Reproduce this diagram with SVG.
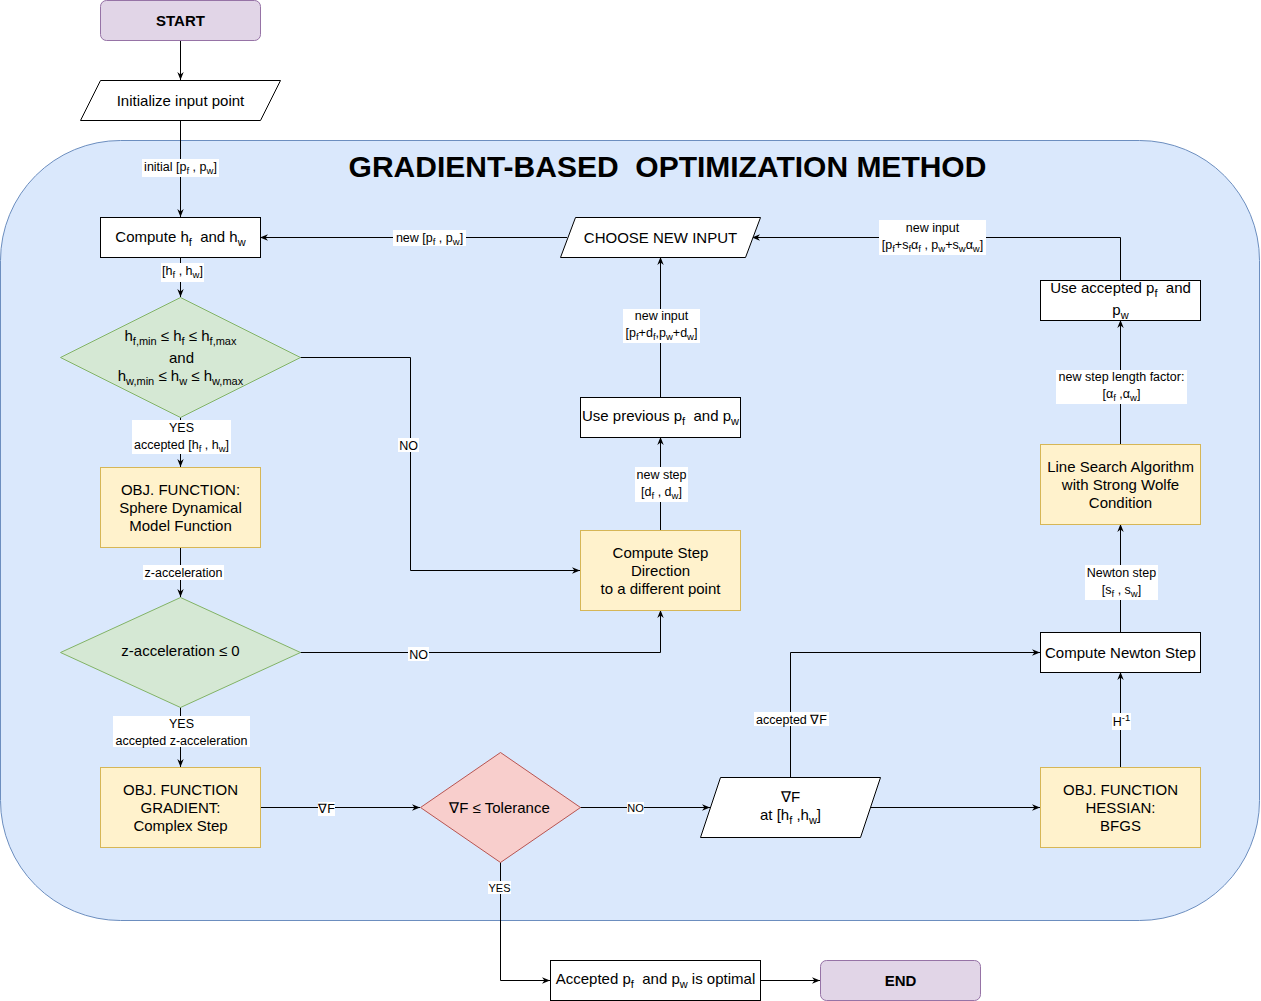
<svg xmlns="http://www.w3.org/2000/svg" width="1261" height="1001" viewBox="0 0 1261 1001">
<defs>
<marker id="arr" viewBox="0 0 10 10" refX="10" refY="5" markerWidth="8" markerHeight="8" markerUnits="userSpaceOnUse" orient="auto">
<path d="M0,1 L10,5 L0,9 L3,5 z" fill="#000"/>
</marker>
<style>
text{font-family:"Liberation Sans",Arial,sans-serif;fill:#000;white-space:pre;}
.n{font-size:15px;text-anchor:middle;}
.b{font-size:15px;font-weight:bold;text-anchor:middle;}
.l{font-size:12.5px;text-anchor:middle;}
.s{font-size:11px;}
.ls{font-size:9.5px;}
.title{font-size:30px;font-weight:bold;text-anchor:middle;}
.plain{fill:#fff;stroke:#000;stroke-width:1;}
.term{fill:#e1d5e7;stroke:#9673a6;stroke-width:1;}
.proc{fill:#fff2cc;stroke:#d6b656;stroke-width:1;}
.dec{fill:#d5e8d4;stroke:#82b366;stroke-width:1;}
.red{fill:#f8cecc;stroke:#b85450;stroke-width:1;}
.lbg{fill:#fff;stroke:none;}
.c{fill:none;stroke:#000;stroke-width:1;marker-end:url(#arr);}
</style>
</defs>
<rect width="1261" height="1001" fill="#fff"/>
<g id="container">
<rect x="0.5" y="140.5" width="1259" height="780" rx="120" ry="120" fill="#dae8fc" stroke="#6c8ebf" stroke-width="1"/>
<text class="title" x="667.5" y="177">GRADIENT-BASED  OPTIMIZATION METHOD</text>
</g>
<g id="connectors">
<path class="c" d="M180.5,40 V80"/>
<path class="c" d="M180.5,120 V217"/>
<path class="c" d="M180.5,257 V297"/>
<path class="c" d="M180.5,417 V467"/>
<path class="c" d="M180.5,547 V597"/>
<path class="c" d="M180.5,707 V767"/>
<path class="c" d="M260,807.5 H420"/>
<path class="c" d="M580,807.5 H710"/>
<path class="c" d="M870,807.5 H1040"/>
<path class="c" d="M1120.5,767 V672"/>
<path class="c" d="M1120.5,632 V524"/>
<path class="c" d="M1120.5,444 V320"/>
<path class="c" d="M1120.5,280 V237.5 H752"/>
<path class="c" d="M567,237.5 H260"/>
<path class="c" d="M660.5,397 V257"/>
<path class="c" d="M660.5,530 V437"/>
<path class="c" d="M300,357.5 H410.5 V570.5 H580"/>
<path class="c" d="M300,652.5 H660.5 V610"/>
<path class="c" d="M790.5,777 V652.5 H1040"/>
<path class="c" d="M500.5,862 V980.5 H550"/>
<path class="c" d="M760,980.5 H820"/>
<!-- labels -->
<rect class="lbg" x="142" y="159" width="77" height="18"/>
<text class="l" x="180.5" y="171">initial [p<tspan dy="3" class="ls">f</tspan><tspan dy="-3"> , p</tspan><tspan dy="3" class="ls">w</tspan><tspan dy="-3">]</tspan></text>
<rect class="lbg" x="161" y="263" width="43" height="19"/>
<text class="l" x="182.5" y="275">[h<tspan dy="3" class="ls">f</tspan><tspan dy="-3"> , h</tspan><tspan dy="3" class="ls">w</tspan><tspan dy="-3">]</tspan></text>
<rect class="lbg" x="132" y="420" width="99" height="34"/>
<text class="l" x="181.5" y="432">YES</text>
<text class="l" x="181.5" y="449">accepted [h<tspan dy="3" class="ls">f</tspan><tspan dy="-3"> , h</tspan><tspan dy="3" class="ls">w</tspan><tspan dy="-3">]</tspan></text>
<rect class="lbg" x="143" y="565" width="81" height="15"/>
<text class="l" x="183.5" y="577">z-acceleration</text>
<rect class="lbg" x="113" y="716" width="137" height="31"/>
<text class="l" x="181.5" y="728">YES</text>
<text class="l" x="181.5" y="745">accepted z-acceleration</text>
<rect class="lbg" x="318" y="802" width="17" height="14"/>
<text class="l" x="326.5" y="813">∇F</text>
<rect class="lbg" x="627" y="802" width="17" height="12"/>
<text class="l" x="635.5" y="812" style="font-size:11px">NO</text>
<rect class="lbg" x="488" y="881" width="23" height="13"/>
<text class="l" x="499.5" y="891.5" style="font-size:11px">YES</text>
<rect class="lbg" x="398" y="438" width="21" height="14"/>
<text class="l" x="408.5" y="450">NO</text>
<rect class="lbg" x="408" y="647" width="21" height="14"/>
<text class="l" x="418.5" y="658.5">NO</text>
<rect class="lbg" x="393" y="230" width="73" height="16"/>
<text class="l" x="429.5" y="242">new [p<tspan dy="3" class="ls">f</tspan><tspan dy="-3"> , p</tspan><tspan dy="3" class="ls">w</tspan><tspan dy="-3">]</tspan></text>
<rect class="lbg" x="879" y="220" width="107" height="35"/>
<text class="l" x="932.5" y="232">new input</text>
<text class="l" x="932.5" y="249">[p<tspan dy="3" class="ls">f</tspan><tspan dy="-3">+s</tspan><tspan dy="3" class="ls">f</tspan><tspan dy="-3">α</tspan><tspan dy="3" class="ls">f</tspan><tspan dy="-3"> , p</tspan><tspan dy="3" class="ls">w</tspan><tspan dy="-3">+s</tspan><tspan dy="3" class="ls">w</tspan><tspan dy="-3">α</tspan><tspan dy="3" class="ls">w</tspan><tspan dy="-3">]</tspan></text>
<rect class="lbg" x="623" y="309" width="77" height="34"/>
<text class="l" x="661.5" y="320">new input</text>
<text class="l" x="661.5" y="337">[p<tspan dy="3" class="ls">f</tspan><tspan dy="-3">+d</tspan><tspan dy="3" class="ls">f</tspan><tspan dy="-3">,p</tspan><tspan dy="3" class="ls">w</tspan><tspan dy="-3">+d</tspan><tspan dy="3" class="ls">w</tspan><tspan dy="-3">]</tspan></text>
<rect class="lbg" x="635" y="467" width="53" height="35"/>
<text class="l" x="661.5" y="479">new step</text>
<text class="l" x="661.5" y="496">[d<tspan dy="3" class="ls">f</tspan><tspan dy="-3"> , d</tspan><tspan dy="3" class="ls">w</tspan><tspan dy="-3">]</tspan></text>
<rect class="lbg" x="1056" y="370" width="131" height="34"/>
<text class="l" x="1121.5" y="381">new step length factor:</text>
<text class="l" x="1121.5" y="398">[α<tspan dy="3" class="ls">f</tspan><tspan dy="-3"> ,α</tspan><tspan dy="3" class="ls">w</tspan><tspan dy="-3">]</tspan></text>
<rect class="lbg" x="1085" y="565" width="73" height="35"/>
<text class="l" x="1121.5" y="577">Newton step</text>
<text class="l" x="1121.5" y="594">[s<tspan dy="3" class="ls">f</tspan><tspan dy="-3"> , s</tspan><tspan dy="3" class="ls">w</tspan><tspan dy="-3">]</tspan></text>
<rect class="lbg" x="754" y="712" width="75" height="14"/>
<text class="l" x="791.5" y="723.5">accepted ∇F</text>
<rect class="lbg" x="1112" y="713" width="19" height="17"/>
<text class="l" x="1121.5" y="726">H<tspan dy="-5" class="ls">-1</tspan></text>
</g>
<g id="start">
<rect class="term" x="100.5" y="0.5" width="160" height="40" rx="6" ry="6"/>
<text class="b" x="180.5" y="26">START</text>
</g>
<g id="init">
<polygon class="plain" points="100.5,80.5 280.5,80.5 260.5,120.5 80.5,120.5"/>
<text class="n" x="180.5" y="106">Initialize input point</text>
</g>
<g id="computeh">
<rect class="plain" x="100.5" y="217.5" width="160" height="40"/>
<text class="n" x="180.5" y="242">Compute h<tspan dy="4" class="s">f</tspan><tspan dy="-4">  and h</tspan><tspan dy="4" class="s">w</tspan></text>
</g>
<g id="dec1">
<polygon class="dec" points="180.5,297.5 300.5,357.5 180.5,417.5 60.5,357.5"/>
<text class="n" x="180.5" y="341">h<tspan dy="4" class="s">f,min</tspan><tspan dy="-4"> ≤ h</tspan><tspan dy="4" class="s">f</tspan><tspan dy="-4"> ≤ h</tspan><tspan dy="4" class="s">f,max</tspan></text>
<text class="n" x="181.5" y="363">and</text>
<text class="n" x="180.5" y="381">h<tspan dy="4" class="s">w,min</tspan><tspan dy="-4"> ≤ h</tspan><tspan dy="4" class="s">w</tspan><tspan dy="-4"> ≤ h</tspan><tspan dy="4" class="s">w,max</tspan></text>
</g>
<g id="objfun">
<rect class="proc" x="100.5" y="467.5" width="160" height="80"/>
<text class="n" x="180.5" y="495">OBJ. FUNCTION:</text>
<text class="n" x="180.5" y="513">Sphere Dynamical</text>
<text class="n" x="180.5" y="531">Model Function</text>
</g>
<g id="dec2">
<polygon class="dec" points="180.5,597.5 300.5,652.5 180.5,707.5 60.5,652.5"/>
<text class="n" x="180.5" y="656">z-acceleration ≤ 0</text>
</g>
<g id="gradient">
<rect class="proc" x="100.5" y="767.5" width="160" height="80"/>
<text class="n" x="180.5" y="795">OBJ. FUNCTION</text>
<text class="n" x="180.5" y="813">GRADIENT:</text>
<text class="n" x="180.5" y="831">Complex Step</text>
</g>
<g id="dec3">
<polygon class="red" points="500.5,752.5 580.5,807.5 500.5,862.5 420.5,807.5"/>
<text class="n" x="499.5" y="813">∇F ≤ Tolerance</text>
</g>
<g id="gradF">
<polygon class="plain" points="720.5,777.5 880.5,777.5 860.5,837.5 700.5,837.5"/>
<text class="n" x="790.5" y="802">∇F</text>
<text class="n" x="790.5" y="820">at [h<tspan dy="4" class="s">f</tspan><tspan dy="-4"> ,h</tspan><tspan dy="4" class="s">w</tspan><tspan dy="-4">]</tspan></text>
</g>
<g id="hessian">
<rect class="proc" x="1040.5" y="767.5" width="160" height="80"/>
<text class="n" x="1120.5" y="795">OBJ. FUNCTION</text>
<text class="n" x="1120.5" y="813">HESSIAN:</text>
<text class="n" x="1120.5" y="831">BFGS</text>
</g>
<g id="newton">
<rect class="plain" x="1040.5" y="632.5" width="160" height="40"/>
<text class="n" x="1120.5" y="658">Compute Newton Step</text>
</g>
<g id="linesearch">
<rect class="proc" x="1040.5" y="444.5" width="160" height="80"/>
<text class="n" x="1120.5" y="472">Line Search Algorithm</text>
<text class="n" x="1120.5" y="490">with Strong Wolfe</text>
<text class="n" x="1120.5" y="508">Condition</text>
</g>
<g id="useaccepted">
<rect class="plain" x="1040.5" y="280.5" width="160" height="40"/>
<text class="n" x="1120.5" y="293">Use accepted p<tspan dy="4" class="s">f</tspan><tspan dy="-4">  and</tspan></text>
<text class="n" x="1120.5" y="315">p<tspan dy="4" class="s">w</tspan></text>
</g>
<g id="choose">
<polygon class="plain" points="575.5,217.5 760.5,217.5 745.5,257.5 560.5,257.5"/>
<text class="n" x="660.5" y="243">CHOOSE NEW INPUT</text>
</g>
<g id="useprevious">
<rect class="plain" x="580.5" y="397.5" width="160" height="40"/>
<text class="n" x="660.5" y="421">Use previous p<tspan dy="4" class="s">f</tspan><tspan dy="-4">  and p</tspan><tspan dy="4" class="s">w</tspan></text>
</g>
<g id="stepdir">
<rect class="proc" x="580.5" y="530.5" width="160" height="80"/>
<text class="n" x="660.5" y="558">Compute Step</text>
<text class="n" x="660.5" y="576">Direction</text>
<text class="n" x="660.5" y="594">to a different point</text>
</g>
<g id="optimal">
<rect class="plain" x="550.5" y="960.5" width="210" height="40"/>
<text class="n" x="655.5" y="984">Accepted p<tspan dy="4" class="s">f</tspan><tspan dy="-4">  and p</tspan><tspan dy="4" class="s">w</tspan><tspan dy="-4"> is optimal</tspan></text>
</g>
<g id="end">
<rect class="term" x="820.5" y="960.5" width="160" height="40" rx="6" ry="6"/>
<text class="b" x="900.5" y="986">END</text>
</g>
</svg>
